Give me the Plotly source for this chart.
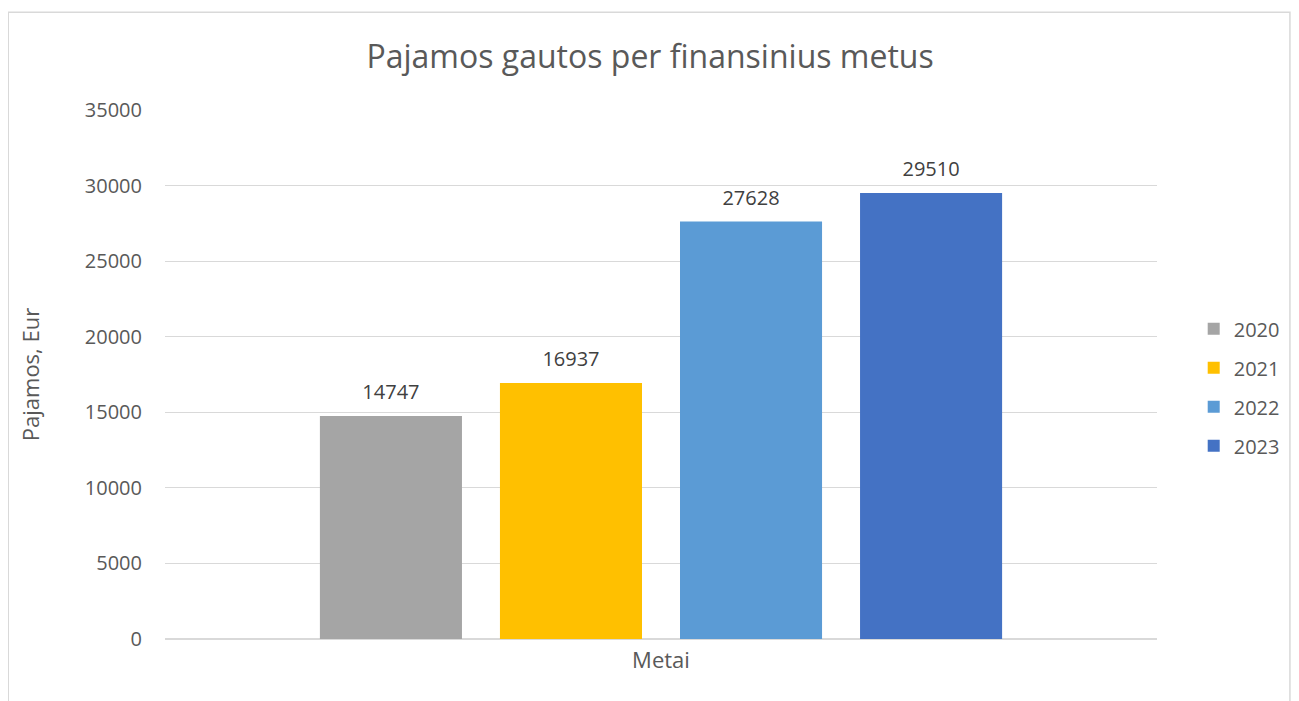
import plotly.graph_objects as go

categories = ["Metai"]
years = ["2020", "2021", "2022", "2023"]
values = [14747, 16937, 27628, 29510]
colors = ["#A5A5A5", "#FFC000", "#5B9BD5", "#4472C4"]
y_ticks = [0, 5000, 10000, 15000, 20000, 25000, 30000, 35000]

FONT = "Open Sans"

fig = go.Figure()
for yr, v, c in zip(years, values, colors):
    fig.add_trace(go.Bar(
        name=yr, x=categories, y=[v], marker=dict(color=c, line=dict(width=0)),
        offsetgroup=yr, legendgroup=yr, hoverinfo="y",
    ))
for yr, v in zip(years, values):
    fig.add_trace(go.Scatter(
        x=categories, y=[v], mode="markers+text", text=[str(v)], textposition="top center",
        offsetgroup=yr, legendgroup=yr, showlegend=False, cliponaxis=False, hoverinfo="skip",
        marker=dict(size=17, opacity=0),
        textfont=dict(family=FONT, size=20, color="#404040"),
    ))

fig.update_layout(
    width=1291, height=693,
    paper_bgcolor="white", plot_bgcolor="white",
    margin=dict(l=157, r=142, t=102, b=62),
    barmode="group", scattermode="group", bargap=0.274, bargroupgap=0.211,
    font=dict(family=FONT, color="#595959"),
    title=dict(text="Pajamos gautos per finansinius metus", x=0.489, xref="paper",
               y=0.929, yanchor="middle",
               font=dict(family=FONT, size=32, color="#595959")),
    legend=dict(x=1.037, xanchor="left", y=0.476, yanchor="middle",
                font=dict(family=FONT, size=20, color="#595959"),
                itemsizing="constant", tracegroupgap=10),
    showlegend=True,
)
fig.update_yaxes(range=[0, 35000], tickvals=y_ticks, tickformat="d", showgrid=True,
                 gridcolor="#D9D9D9", gridwidth=1, zeroline=True,
                 zerolinecolor="#D9D9D9", zerolinewidth=2,
                 showline=False, ticks="", ticklabelstandoff=22,
                 tickfont=dict(family=FONT, size=20, color="#595959"),
                 title=dict(text="Pajamos, Eur", standoff=39,
                            font=dict(family=FONT, size=22, color="#595959")))
fig.update_xaxes(showline=False, ticks="", showticklabels=False,
                 title=dict(text="Metai", standoff=13,
                            font=dict(family=FONT, size=22, color="#595959")))
fig.add_shape(type="rect", xref="paper", yref="paper",
              x0=-0.158, x1=1.134, y0=-0.2, y1=1.185,
              line=dict(color="#D9D9D9", width=1.5), layer="below")
fig.write_html("out.html")
